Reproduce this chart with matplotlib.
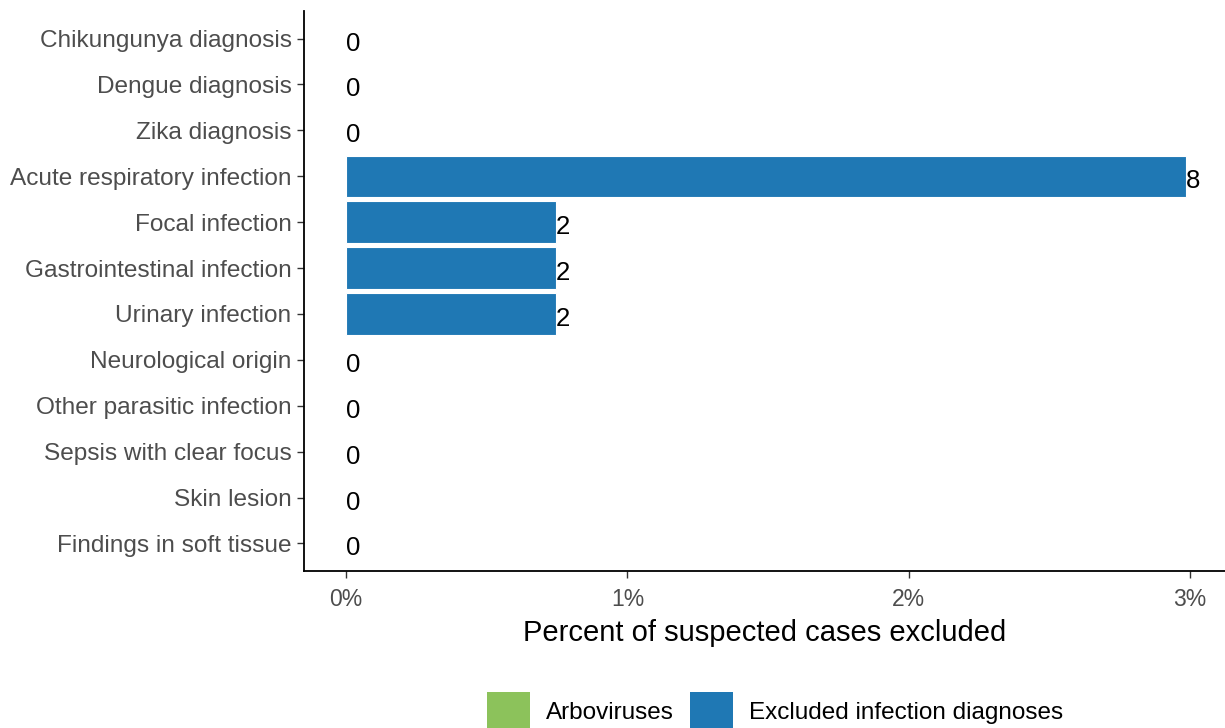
import matplotlib
matplotlib.use("Agg")
import matplotlib.pyplot as plt
from matplotlib.patches import Patch
from matplotlib.ticker import FuncFormatter

plt.rcParams['font.family'] = ['Liberation Sans', 'DejaVu Sans']

categories = ["Chikungunya diagnosis", "Dengue diagnosis", "Zika diagnosis",
              "Acute respiratory infection", "Focal infection",
              "Gastrointestinal infection", "Urinary infection",
              "Neurological origin", "Other parasitic infection",
              "Sepsis with clear focus", "Skin lesion", "Findings in soft tissue"]
groups = ["Arboviruses", "Arboviruses", "Arboviruses",
          "Excluded infection diagnoses", "Excluded infection diagnoses",
          "Excluded infection diagnoses", "Excluded infection diagnoses",
          "Excluded infection diagnoses", "Excluded infection diagnoses",
          "Excluded infection diagnoses", "Excluded infection diagnoses",
          "Excluded infection diagnoses"]
counts = [0, 0, 0, 8, 2, 2, 2, 0, 0, 0, 0, 0]
percents = [0, 0, 0, 2.985, 0.746, 0.746, 0.746, 0, 0, 0, 0, 0]
legend_labels = ["Arboviruses", "Excluded infection diagnoses"]
colors = {"Arboviruses": "#8CC25B", "Excluded infection diagnoses": "#1F78B4"}

fig = plt.figure(figsize=(12.25, 7.28), dpi=100)
ax = fig.add_axes([304/1225, 1-571/728, 1-304/1225, (571-11)/728])

ypos = list(range(len(categories)))[::-1]
for y, p, g, c in zip(ypos, percents, groups, counts):
    ax.barh(y, p, height=0.9, color=colors[g], edgecolor='white', linewidth=0.8)
    ax.annotate(str(c), (p, y), xytext=(0, -5), textcoords='offset pixels',
                ha='left', va='center', fontsize=18.5, color='black')

ax.set_yticks(ypos)
ax.set_yticklabels(categories, fontsize=17.6, color='#4D4D4D')
ax.set_xticks([0, 1, 2, 3])
ax.xaxis.set_major_formatter(FuncFormatter(lambda v, _: f"{int(v)}%"))
ax.tick_params(axis='x', labelsize=16.5, labelcolor='#4D4D4D', length=5, color='#333333', width=1, pad=7)
ax.tick_params(axis='y', length=5, color='#333333', width=1, pad=4)
ax.set_xlim(-0.15, 3.125)
ax.set_ylim(-0.6, len(categories) - 0.4)
ax.set_xlabel("Percent of suspected cases excluded", fontsize=21, color='black', labelpad=6)
for s in ['top', 'right']:
    ax.spines[s].set_visible(False)
for s in ['left', 'bottom']:
    ax.spines[s].set_color('black')
    ax.spines[s].set_linewidth(1.3)

handles = [Patch(facecolor=colors[l], edgecolor='none', label=l) for l in legend_labels]
fig.legend(handles=handles, loc='upper center', bbox_to_anchor=(775/1225, 1-692/728),
           ncol=2, frameon=False, fontsize=17.5, handlelength=1.75, handleheight=2.1,
           handletextpad=0.65, columnspacing=0.7, borderpad=0, borderaxespad=0)

fig.savefig("out.png", dpi=100)
